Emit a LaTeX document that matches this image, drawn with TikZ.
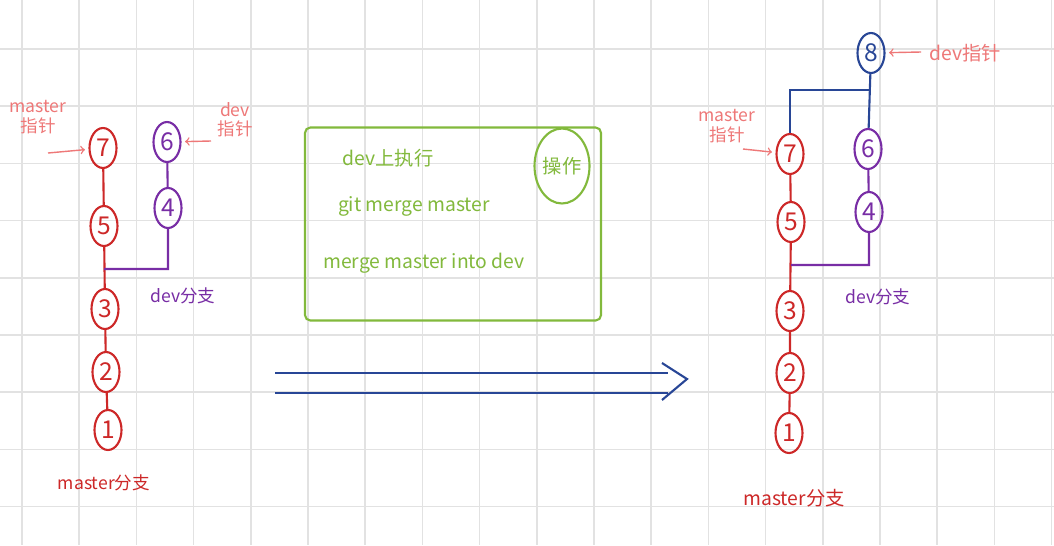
\documentclass[tikz,border=0pt]{standalone}
\usepackage{fontspec}
\setmainfont{Noto Sans CJK SC}
\usetikzlibrary{positioning,shapes,arrows}
\definecolor{mred}{RGB}{205,40,40}
\definecolor{dpurple}{RGB}{120,45,165}
\definecolor{ptrpink}{RGB}{238,120,120}
\definecolor{opgreen}{RGB}{130,185,60}
\definecolor{mblue}{RGB}{40,70,150}
\definecolor{gridgray}{RGB}{226,226,226}

\begin{document}
\begin{tikzpicture}
[x=0.02cm, y=-0.02cm,
 gridline/.style={line width=1pt, draw=gridgray},
 commit/.style={shape=ellipse, draw, line width=1.2pt, inner sep=0pt,
   minimum width=0.54cm, minimum height=0.8cm, font=\fontsize{14}{14}\selectfont},
 mcommit/.style={commit, draw=mred, text=mred},
 dcommit/.style={commit, draw=dpurple, text=dpurple},
 bcommit/.style={commit, draw=mblue, text=mblue},
 mline/.style={line width=1.2pt, draw=mred},
 dline/.style={line width=1.2pt, draw=dpurple},
 bline/.style={line width=1.2pt, draw=mblue},
 ptr/.style={->, line width=0.8pt, draw=ptrpink, shorten >=2pt},
 ptrlabel/.style={text=ptrpink, align=center, inner sep=0pt,
   font=\fontsize{10}{11}\selectfont},
 branchlabel/.style={inner sep=0pt, font=\fontsize{10}{12}\selectfont},
 opbox/.style={draw=opgreen, line width=1.2pt, rounded corners=3pt,
   minimum width=5.92cm, minimum height=3.86cm},
 optext/.style={text=opgreen, inner sep=0pt, font=\fontsize{11}{13}\selectfont},
 optag/.style={shape=ellipse, draw=opgreen, text=opgreen, line width=1.2pt,
   inner sep=0pt, minimum width=1.1cm, minimum height=1.5cm,
   font=\fontsize{11}{13}\selectfont}]
\fill[white] (0,0) rectangle (1054,545);
\useasboundingbox (0,0) rectangle (1054,545);
\foreach \i in {0,...,18}
  \draw[gridline] ({22+57.2*\i},0) -- ({22+57.2*\i},545);
\foreach \j in {0,...,8}
  \draw[gridline] (0,{49+57.2*\j}) -- (1054,{49+57.2*\j});

% before the merge
\node[mcommit] (L1) at (108,430) {1};
\node[mcommit] (L2) at (106,372) {2};
\node[mcommit] (L3) at (105,309) {3};
\node[mcommit] (L5) at (104,226) {5};
\node[mcommit] (L7) at (103,148) {7};
\node[dcommit] (L4) at (168,208) {4};
\node[dcommit] (L6) at (167,142) {6};
\coordinate (Lfork) at (104,269);
\draw[mline] (L1) -- (L2) -- (L3) -- (L5) -- (L7);
\draw[dline] (L6) -- (L4) |- (Lfork);

\node[ptrlabel] (Lmptr) at (38,117) {master\\指针};
\coordinate (Lmtail) at (48,153);
\draw[ptr] (Lmtail) -- (L7);
\node[ptrlabel] (Ldptr) at (235,120) {dev\\指针};
\coordinate (Ldtail) at (211,141);
\draw[ptr] (Ldtail) -- (L6);
\node[branchlabel, text=dpurple] (Ldev) at (183,296) {dev分支};
\node[branchlabel, text=mred] (Lmaster) at (104,483) {master分支};

% what is run
\node[opbox] (op) at (453,224) {};
\node[optext] (opa) at (388,158) {dev上执行};
\node[optext] (opb) at (414,206) {git merge master};
\node[optext] (opc) at (424,263) {merge master into dev};
\node[optag] (opt) at (562,166) {操作};

\coordinate (ma) at (275,373);
\coordinate (mb) at (668,373);
\coordinate (mc) at (275,393);
\coordinate (md) at (668,393);
\coordinate (mup) at (662,363);
\coordinate (mtip) at (687,379);
\coordinate (mdn) at (662,400);
\draw[bline] (ma) -- (mb);
\draw[bline] (mc) -- (md);
\draw[bline] (mup) -- (mtip) -- (mdn);

% after the merge
\node[mcommit] (R1) at (789,433) {1};
\node[mcommit] (R2) at (790,373) {2};
\node[mcommit] (R3) at (790,311) {3};
\node[mcommit] (R5) at (791,222) {5};
\node[mcommit] (R7) at (790,154) {7};
\node[dcommit] (R4) at (869,212) {4};
\node[dcommit] (R6) at (868,149) {6};
\node[bcommit] (R8) at (871,53) {8};
\coordinate (Rfork) at (791,265);
\coordinate (Rjoin) at (869,90);
\draw[mline] (R1) -- (R2) -- (R3) -- (R5) -- (R7);
\draw[dline] (R6) -- (R4) |- (Rfork);
\draw[bline] (R8) -- (R6);
\draw[bline] (R7) |- (Rjoin);

\node[ptrlabel] (Rmptr) at (727,126) {master\\指针};
\coordinate (Rmtail) at (743,149);
\draw[ptr] (Rmtail) -- (R7);
\node[ptrlabel, font=\fontsize{11}{13}\selectfont] (Rdptr) at (965,53) {dev指针};
\coordinate (Rdtail) at (921,52);
\draw[ptr] (Rdtail) -- (R8);
\node[branchlabel, text=dpurple] (Rdev) at (878,297) {dev分支};
\node[branchlabel, text=mred, font=\fontsize{11}{13}\selectfont] (Rmaster) at (794,498) {master分支};
\end{tikzpicture}
\end{document}
